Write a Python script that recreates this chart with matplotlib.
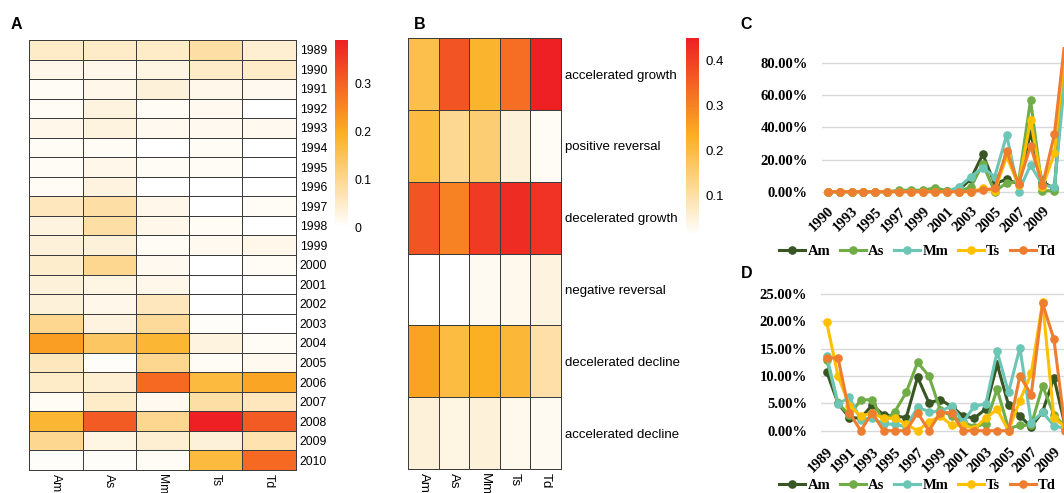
import numpy as np
import matplotlib
matplotlib.use("Agg")
from matplotlib import pyplot as plt
from matplotlib.colors import LinearSegmentedColormap
from matplotlib.ticker import PercentFormatter

W, H = 1064, 493

species = ["Am", "As", "Mm", "Ts", "Td"]

# Panel A: yearly share per species
years_a = [str(y) for y in range(1989, 2011)]
heat_a = np.array([
    [0.05, 0.05, 0.05, 0.08, 0.04],
    [0.02, 0.02, 0.025, 0.05, 0.05],
    [0.01, 0.02, 0.035, 0.02, 0.015],
    [0.01, 0.03, 0.01, 0.015, 0.0],
    [0.02, 0.03, 0.015, 0.015, 0.015],
    [0.01, 0.01, 0.0, 0.01, 0.0],
    [0.01, 0.02, 0.01, 0.01, 0.0],
    [0.01, 0.03, 0.0, 0.0, 0.0],
    [0.06, 0.08, 0.02, 0.0, 0.01],
    [0.03, 0.08, 0.02, 0.01, 0.0],
    [0.035, 0.035, 0.01, 0.015, 0.02],
    [0.045, 0.10, 0.015, 0.0, 0.01],
    [0.035, 0.025, 0.02, 0.0, 0.0],
    [0.035, 0.02, 0.06, 0.0, 0.0],
    [0.10, 0.03, 0.09, 0.005, 0.0],
    [0.22, 0.14, 0.18, 0.03, 0.01],
    [0.06, 0.005, 0.10, 0.01, 0.015],
    [0.05, 0.04, 0.29, 0.17, 0.21],
    [0.01, 0.05, 0.015, 0.08, 0.06],
    [0.18, 0.31, 0.10, 0.39, 0.31],
    [0.10, 0.025, 0.04, 0.035, 0.07],
    [0.005, 0.005, 0.01, 0.17, 0.29],
])

# Panel B: trend categories
trends = ["accelerated growth", "positive reversal", "decelerated growth",
          "negative reversal", "decelerated decline", "accelerated decline"]
heat_b = np.array([
    [0.19, 0.37, 0.22, 0.33, 0.45],
    [0.20, 0.12, 0.15, 0.05, 0.02],
    [0.37, 0.30, 0.41, 0.43, 0.42],
    [0.011, 0.011, 0.025, 0.03, 0.045],
    [0.25, 0.20, 0.23, 0.21, 0.10],
    [0.05, 0.04, 0.05, 0.03, 0.025],
])

# Panel C: growth rate
cats_c = ["1990"] + [str(y) for y in range(1992, 2012)]
rate_c = {
    "Am": [0, 0, 0, 0, 0, 0, 0.003, 0.005, 0.005, 0.008, 0.005, 0.01, 0.08,
           0.233, 0.05, 0.077, 0.048, 0.368, 0.06, 0.02, 0.95],
    "As": [0, 0, 0, 0, 0, 0, 0.008, 0.01, 0.008, 0.025, 0.005, 0.0, 0.03,
           0.172, 0.0, 0.056, 0.062, 0.57, 0.006, 0.006, 0.92],
    "Mm": [0, 0, 0, 0, 0, 0, 0, 0, 0, 0, 0, 0.03, 0.093, 0.15, 0.093,
           0.353, 0.0, 0.166, 0.04, 0.03, 0.80],
    "Ts": [0, 0, 0, 0, 0, 0, 0, 0, 0, 0, 0, 0, 0, 0.02, 0.005, 0.22,
           0.04, 0.447, 0.03, 0.239, 0.98],
    "Td": [0, 0, 0, 0, 0, 0, 0, 0, 0, 0, 0, 0, 0, 0.01, 0.02, 0.253,
           0.048, 0.285, 0.04, 0.357, 1.02],
}

# Panel D: yearly share (percent)
cats_d = [str(y) for y in range(1989, 2011)]
rate_d = {
    "Am": [10.8, 5.0, 2.4, 2.3, 4.7, 2.9, 2.7, 2.4, 9.8, 5.1, 5.7, 4.4, 2.7,
           2.3, 4.0, 12.2, 4.7, 2.7, 0.7, 3.5, 9.7, 0.7],
    "As": [13.0, 5.0, 2.9, 5.6, 5.7, 1.6, 3.5, 7.0, 12.5, 10.0, 3.8, 2.7, 1.6,
           0.7, 1.3, 7.6, 0.4, 1.0, 1.0, 8.2, 2.9, 0.7],
    "Mm": [13.7, 4.9, 6.1, 2.0, 2.4, 1.2, 1.2, 0.7, 4.3, 3.5, 3.5, 4.6, 1.6,
           4.5, 4.9, 14.5, 7.0, 15.2, 1.5, 3.4, 0.9, 0.4],
    "Ts": [19.8, 10.0, 4.6, 2.7, 3.2, 2.3, 2.3, 1.2, 0.0, 1.6, 2.7, 1.0, 1.0,
           0.4, 2.3, 3.9, 0.0, 5.5, 10.5, 23.5, 2.3, 0.7],
    "Td": [13.3, 13.3, 3.3, 0.0, 3.3, 0.0, 0.0, 0.0, 3.3, 0.0, 3.3, 3.3, 0.0,
           0.0, 0.0, 0.0, 0.0, 10.0, 6.6, 23.3, 16.7, 0.0],
}

line_colors = {"Am": "#375623", "As": "#70AD47", "Mm": "#6CC6B6",
               "Ts": "#FFC000", "Td": "#ED7D31"}

heat_cmap = LinearSegmentedColormap.from_list(
    "heat", ["#FFFFFF", "#FBB023", "#EE2024"])


def rect(x0, y0, x1, y1):
    return [x0 / W, 1 - y1 / H, (x1 - x0) / W, (y1 - y0) / H]


fig = plt.figure(figsize=(W / 100, H / 100), dpi=100)
sans = "Liberation Sans"
serif = "Liberation Serif"


def heatmap(box, cbox, data, rows, vmin, vmax, ticks, fs):
    ax = fig.add_axes(rect(*box))
    mesh = ax.pcolormesh(data, cmap=heat_cmap, vmin=vmin, vmax=vmax,
                         edgecolors="#3c3c3c", linewidth=0.6)
    mesh.set_clip_on(False)
    ax.set_xlim(0, data.shape[1])
    ax.set_ylim(data.shape[0], 0)
    for s in ax.spines.values():
        s.set_visible(False)
    ax.yaxis.tick_right()
    ax.set_yticks(np.arange(len(rows)) + 0.5)
    ax.set_yticklabels(rows, fontsize=fs, family=sans)
    ax.set_xticks(np.arange(len(species)) + 0.5)
    ax.set_xticklabels(species, rotation=270, fontsize=fs, family=sans,
                       va="top", ha="center")
    ax.tick_params(length=0, pad=3)
    cax = fig.add_axes(rect(*cbox))
    cb = fig.colorbar(mesh, cax=cax)
    cb.outline.set_visible(False)
    cb.set_ticks(ticks)
    cb.set_ticklabels([("%g" % t) for t in ticks])
    cax.tick_params(length=0, pad=5, labelsize=fs)
    for lab in cax.get_yticklabels():
        lab.set_family(sans)
    return ax


heatmap((29.3, 40, 295.7, 470), (335, 40, 347.7, 227), heat_a, years_a,
        0, 0.39, [0, 0.1, 0.2, 0.3], 8.7)
heatmap((408.3, 38.3, 560.7, 469), (685.7, 38.3, 699, 235), heat_b, trends,
        0.011, 0.45, [0.1, 0.2, 0.3, 0.4], 9.5)


def lines(box, cats, series, ylim, yticks, scale, legend_y):
    ax = fig.add_axes(rect(*box))
    x = np.arange(len(cats))
    for name in species:
        ax.plot(x, np.array(series[name]) * scale, color=line_colors[name],
                lw=2.2, marker="o", ms=5.2, label=name)
    ax.set_xlim(-0.5, len(cats) - 0.5)
    ax.set_ylim(*ylim)
    ax.set_yticks(yticks)
    ax.yaxis.set_major_formatter(PercentFormatter(1.0, decimals=2))
    shown = x[:len(cats) - 1:2]
    ax.set_xticks(shown)
    ax.set_xticklabels([cats[i] for i in shown], rotation=45,
                       ha="right", va="top", rotation_mode="anchor")
    ax.grid(axis="y", color="#D9D9D9", lw=1)
    ax.set_axisbelow(True)
    for s in ax.spines.values():
        s.set_visible(False)
    ax.tick_params(axis="y", length=0, pad=10)
    ax.tick_params(axis="x", length=0, pad=6)
    for lab in ax.get_xticklabels() + ax.get_yticklabels():
        lab.set_family(serif)
        lab.set_weight("bold")
        lab.set_fontsize(10.5)
    ax.legend(loc="center", bbox_to_anchor=(917.5 / W, 1 - legend_y / H),
              bbox_transform=fig.transFigure, ncol=5, frameon=False,
              numpoints=1, handlelength=1.8, handletextpad=0.15,
              columnspacing=0.65, borderpad=0,
              prop={"family": serif, "weight": "bold", "size": 10.5})
    return ax


lines((821.7, 47.25, 1072.3, 196.5), cats_c, rate_c, (-0.03, 0.9),
      [0, 0.2, 0.4, 0.6, 0.8], 1.0, 251.7)
lines((821, 291.3, 1071, 437.3), cats_d, rate_d, (-0.012, 0.255),
      [0, 0.05, 0.1, 0.15, 0.2, 0.25], 0.01, 485)

for letter, (px, py) in {"A": (11, 29), "B": (414, 29), "C": (740, 29),
                         "D": (741, 278)}.items():
    fig.text(px / W, 1 - py / H, letter, family=sans, weight="bold",
             fontsize=11.5, va="baseline", ha="left")

fig.savefig("out.png", dpi=100)
